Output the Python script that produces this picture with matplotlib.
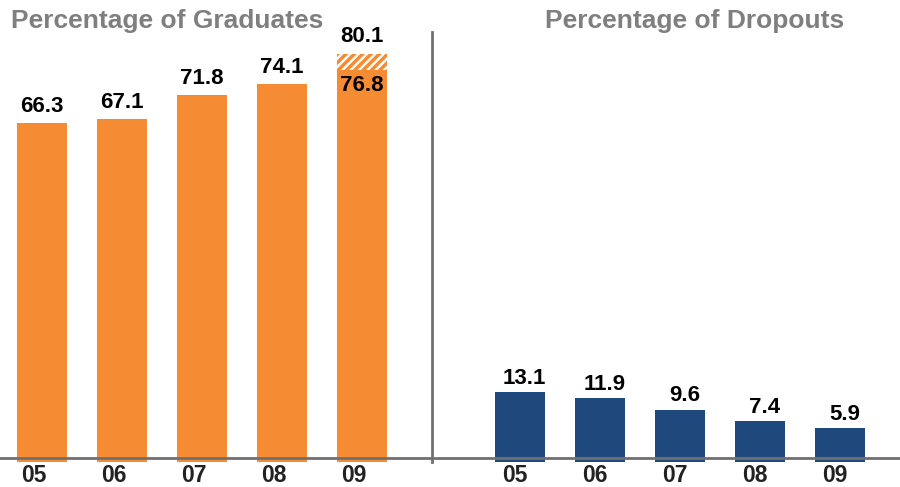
import matplotlib
matplotlib.use("Agg")
import matplotlib.pyplot as plt
from matplotlib.lines import Line2D
from matplotlib.transforms import ScaledTranslation

plt.rcParams['font.family'] = ['Liberation Sans', 'DejaVu Sans']
plt.rcParams['hatch.linewidth'] = 2.5

years = ["05", "06", "07", "08", "09"]
graduates = [66.3, 67.1, 71.8, 74.1, 76.8]
graduates_target = 80.1
dropouts = [13.1, 11.9, 9.6, 7.4, 5.9]

ORANGE = "#F58B32"
NAVY = "#1F497D"
GREY = "#7F7F7F"
DARK = "#222222"

W, H = 900, 487
fig = plt.figure(figsize=(W / 100, H / 100), dpi=100)

bottom_px = 29
ymax = 90.7
ax_h = (H - bottom_px) / H

axL = fig.add_axes([0, bottom_px / H, 432 / W, ax_h])
axR = fig.add_axes([432 / W, bottom_px / H, 468 / W, ax_h])

x = list(range(len(years)))
bw = 0.625
base = -0.8
VFS = 16

# graduates
axL.bar(x, [g - base for g in graduates], bottom=base, width=bw, color=ORANGE, zorder=2)
axL.bar(x[-1], graduates_target - graduates[-1], bottom=graduates[-1], width=bw,
        facecolor="white", edgecolor=ORANGE, hatch="////", linewidth=0, zorder=2)
for i, v in enumerate(graduates[:-1]):
    axL.text(i, v + 1.2, f"{v:.1f}", ha="center", va="bottom", fontsize=VFS,
             fontweight="bold", color="black")
axL.text(x[-1], graduates[-1] - 0.9, f"{graduates[-1]:.1f}", ha="center", va="top",
         fontsize=VFS, fontweight="bold", color="black")
axL.text(x[-1], graduates_target + 1.3, f"{graduates_target:.1f}", ha="center", va="bottom",
         fontsize=VFS, fontweight="bold", color="black")
axL.set_xlim(-0.525, 4.875)

# dropouts
axR.bar(x, [d - base for d in dropouts], bottom=base, width=bw, color=NAVY, zorder=2)
for i, v in enumerate(dropouts):
    axR.text(i + 0.06, v + 0.6, f"{v:.1f}", ha="center", va="bottom", fontsize=VFS,
             fontweight="bold", color="black")
axR.set_xlim(-1.1, 4.75)

for ax, shift in ((axL, -8.5), (axR, -5.5)):
    ax.set_ylim(0, ymax)
    ax.axhline(0, color="#707070", lw=2, zorder=3, clip_on=False)
    for s in ax.spines.values():
        s.set_visible(False)
    ax.set_yticks([])
    ax.set_xticks(x)
    ax.set_xticklabels(years, fontsize=16.5, fontweight="bold", color=DARK)
    ax.tick_params(axis="x", length=0, pad=4.5)
    off = ScaledTranslation(shift / 100, 0, fig.dpi_scale_trans)
    for lab in ax.get_xticklabels():
        lab.set_transform(lab.get_transform() + off)
    ax.patch.set_alpha(0)
    for p in ax.patches:
        p.set_clip_on(False)

fig.add_artist(Line2D([432 / W, 432 / W], [1 - 32 / H, 1 - 462 / H], color="#707070", lw=2))

fig.text(11 / W, 1 - 21 / H, "Percentage of Graduates", ha="left", va="center",
         fontsize=19, fontweight="bold", color=GREY)
fig.text(695 / W, 1 - 21 / H, "Percentage of Dropouts", ha="center", va="center",
         fontsize=19, fontweight="bold", color=GREY)

fig.savefig("out.png", dpi=100)
